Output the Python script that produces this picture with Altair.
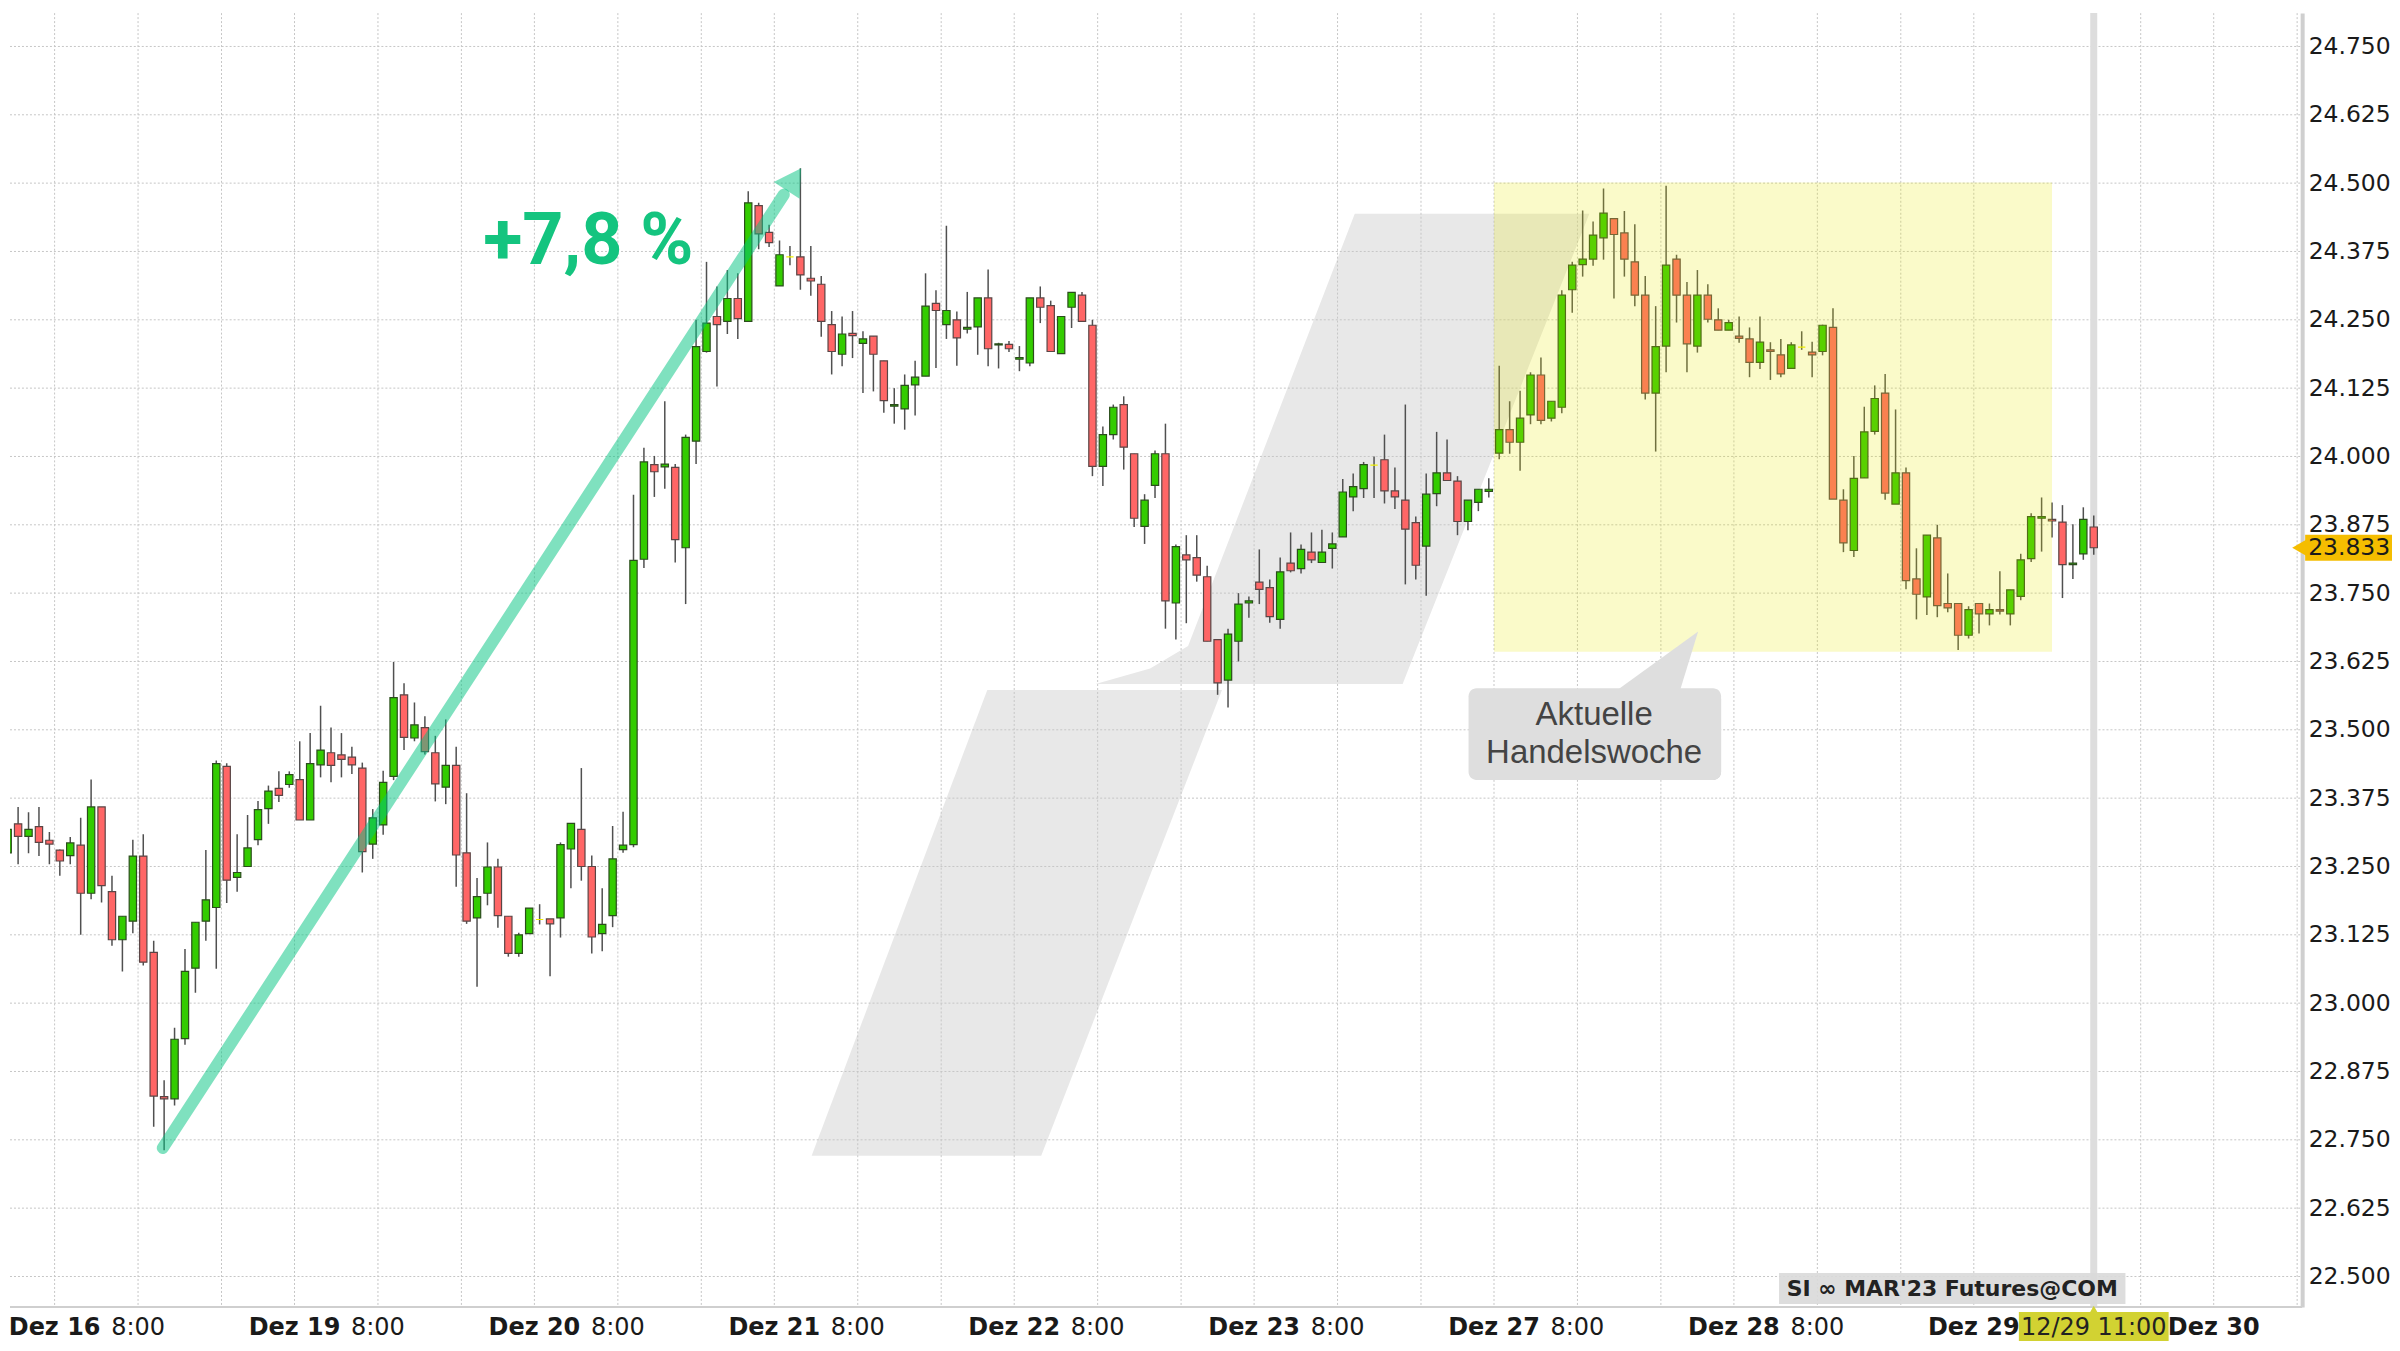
import altair as alt
import pandas as pd

W, H = 2296, 1296

opens = [23.275, 23.328, 23.305, 23.323, 23.298, 23.280, 23.270, 23.289, 23.201, 23.359,
         23.204, 23.116, 23.150, 23.269, 23.093, 22.829, 22.825, 22.935, 23.064, 23.150,
         23.175, 23.433, 23.230, 23.250, 23.299, 23.356, 23.393, 23.400, 23.409, 23.335,
         23.436, 23.458, 23.454, 23.450, 23.430, 23.291, 23.326, 23.415, 23.564, 23.485,
         23.504, 23.458, 23.395, 23.435, 23.275, 23.156, 23.201, 23.249, 23.159, 23.091,
         23.127, 23.153, 23.154, 23.156, 23.282, 23.318, 23.250, 23.127, 23.160, 23.281,
         23.290, 23.812, 23.985, 23.981, 23.980, 23.833, 24.028, 24.192, 24.256, 24.247,
         24.289, 24.247, 24.459, 24.410, 24.312, 24.365, 24.365, 24.326, 24.315, 24.241,
         24.187, 24.225, 24.207, 24.220, 24.175, 24.092, 24.087, 24.131, 24.147, 24.280,
         24.241, 24.250, 24.233, 24.237, 24.290, 24.204, 24.205, 24.178, 24.171, 24.290,
         24.276, 24.188, 24.273, 24.295, 24.240, 23.982, 24.040, 24.095, 24.005, 23.872,
         23.947, 24.005, 23.732, 23.820, 23.815, 23.780, 23.665, 23.591, 23.662, 23.732,
         23.770, 23.760, 23.702, 23.805, 23.795, 23.825, 23.806, 23.832, 23.853, 23.926,
         23.941, 23.984, 23.994, 23.937, 23.920, 23.879, 23.836, 23.932, 23.970, 23.955,
         23.881, 23.916, 23.936, 24.006, 24.049, 24.026, 24.076, 24.149, 24.070, 24.090,
         24.305, 24.351, 24.361, 24.400, 24.435, 24.409, 24.356, 24.295, 24.116, 24.202,
         24.361, 24.295, 24.202, 24.295, 24.250, 24.231, 24.220, 24.215, 24.172, 24.195,
         24.186, 24.161, 24.200, 24.191, 24.192, 24.236, 23.920, 23.828, 23.961, 24.046,
         24.116, 23.913, 23.970, 23.776, 23.743, 23.851, 23.731, 23.731, 23.673, 23.731,
         23.712, 23.720, 23.712, 23.744, 23.813, 23.887, 23.885, 23.880, 23.802, 23.822,
         23.871]
highs = [23.418, 23.359, 23.349, 23.359, 23.313, 23.281, 23.304, 23.339, 23.409, 23.359,
         23.233, 23.159, 23.299, 23.309, 23.114, 22.859, 22.955, 23.099, 23.148, 23.280,
         23.444, 23.439, 23.309, 23.344, 23.370, 23.398, 23.424, 23.424, 23.479, 23.494,
         23.544, 23.504, 23.494, 23.469, 23.440, 23.355, 23.425, 23.624, 23.585, 23.550,
         23.525, 23.489, 23.519, 23.469, 23.384, 23.229, 23.294, 23.264, 23.159, 23.129,
         23.174, 23.181, 23.154, 23.294, 23.329, 23.430, 23.270, 23.210, 23.324, 23.350,
         23.930, 24.016, 24.001, 24.101, 23.986, 24.040, 24.250, 24.356, 24.311, 24.341,
         24.335, 24.485, 24.464, 24.424, 24.395, 24.385, 24.527, 24.385, 24.330, 24.266,
         24.256, 24.266, 24.229, 24.220, 24.175, 24.125, 24.150, 24.175, 24.335, 24.304,
         24.422, 24.265, 24.301, 24.290, 24.342, 24.208, 24.211, 24.202, 24.290, 24.311,
         24.285, 24.256, 24.300, 24.301, 24.250, 24.055, 24.095, 24.110, 24.005, 23.931,
         24.011, 24.060, 23.839, 23.856, 23.856, 23.800, 23.665, 23.685, 23.750, 23.744,
         23.830, 23.775, 23.815, 23.861, 23.839, 23.861, 23.866, 23.861, 23.959, 23.969,
         23.990, 24.000, 24.040, 23.980, 24.095, 23.890, 23.969, 24.045, 24.031, 23.964,
         23.920, 23.940, 23.960, 24.166, 24.101, 24.120, 24.154, 24.181, 24.101, 24.304,
         24.356, 24.450, 24.430, 24.490, 24.435, 24.449, 24.425, 24.330, 24.275, 24.495,
         24.369, 24.319, 24.341, 24.315, 24.271, 24.250, 24.256, 24.236, 24.256, 24.209,
         24.215, 24.209, 24.229, 24.210, 24.241, 24.271, 23.940, 24.001, 24.091, 24.130,
         24.151, 24.086, 23.980, 23.832, 23.856, 23.875, 23.786, 23.731, 23.726, 23.731,
         23.731, 23.790, 23.756, 23.822, 23.896, 23.925, 23.916, 23.911, 23.876, 23.907,
         23.892]
lows = [23.263, 23.254, 23.274, 23.269, 23.254, 23.233, 23.254, 23.125, 23.190, 23.184,
        23.105, 23.058, 23.128, 23.069, 22.774, 22.731, 22.813, 22.924, 23.019, 23.114,
        23.063, 23.183, 23.204, 23.250, 23.289, 23.328, 23.368, 23.394, 23.335, 23.335,
        23.413, 23.404, 23.413, 23.419, 23.239, 23.264, 23.308, 23.408, 23.463, 23.479,
        23.455, 23.369, 23.364, 23.213, 23.145, 23.030, 23.179, 23.138, 23.085, 23.085,
        23.127, 23.144, 23.049, 23.120, 23.210, 23.224, 23.091, 23.095, 23.139, 23.275,
        23.285, 23.796, 23.926, 23.941, 23.806, 23.730, 23.986, 24.190, 24.128, 24.224,
        24.215, 24.247, 24.379, 24.383, 24.312, 24.350, 24.305, 24.294, 24.219, 24.150,
        24.165, 24.180, 24.116, 24.119, 24.080, 24.060, 24.049, 24.075, 24.147, 24.162,
        24.215, 24.166, 24.225, 24.186, 24.165, 24.161, 24.191, 24.156, 24.165, 24.244,
        24.192, 24.188, 24.235, 24.247, 23.964, 23.946, 24.031, 23.976, 23.871, 23.840,
        23.924, 23.685, 23.665, 23.695, 23.771, 23.662, 23.564, 23.541, 23.625, 23.705,
        23.730, 23.696, 23.685, 23.788, 23.786, 23.805, 23.806, 23.795, 23.853, 23.900,
        23.924, 23.924, 23.914, 23.904, 23.766, 23.775, 23.745, 23.909, 23.956, 23.856,
        23.865, 23.900, 23.925, 23.995, 24.005, 23.974, 24.059, 24.059, 24.064, 24.079,
        24.263, 24.329, 24.349, 24.360, 24.289, 24.329, 24.275, 24.104, 24.009, 24.154,
        24.245, 24.154, 24.190, 24.245, 24.231, 24.231, 24.208, 24.145, 24.160, 24.140,
        24.145, 24.161, 24.195, 24.145, 24.185, 23.922, 23.825, 23.816, 23.961, 24.040,
        23.921, 23.913, 23.757, 23.702, 23.710, 23.706, 23.715, 23.646, 23.667, 23.676,
        23.691, 23.711, 23.691, 23.737, 23.807, 23.826, 23.852, 23.741, 23.776, 23.811,
        23.820]
closes = [23.318, 23.305, 23.318, 23.294, 23.291, 23.260, 23.293, 23.201, 23.359, 23.215,
          23.116, 23.159, 23.269, 23.075, 22.830, 22.825, 22.934, 23.058, 23.148, 23.189,
          23.438, 23.225, 23.239, 23.284, 23.354, 23.388, 23.380, 23.418, 23.335, 23.438,
          23.463, 23.435, 23.446, 23.436, 23.277, 23.339, 23.404, 23.559, 23.486, 23.509,
          23.460, 23.401, 23.435, 23.271, 23.150, 23.195, 23.249, 23.160, 23.091, 23.125,
          23.174, 23.153, 23.145, 23.290, 23.329, 23.250, 23.121, 23.144, 23.264, 23.289,
          23.810, 23.990, 23.972, 23.986, 23.848, 24.035, 24.201, 24.244, 24.241, 24.289,
          24.252, 24.464, 24.407, 24.391, 24.369, 24.365, 24.332, 24.321, 24.247, 24.192,
          24.224, 24.221, 24.215, 24.187, 24.102, 24.095, 24.130, 24.145, 24.275, 24.267,
          24.267, 24.217, 24.236, 24.290, 24.197, 24.206, 24.197, 24.181, 24.290, 24.273,
          24.192, 24.256, 24.300, 24.247, 23.982, 24.040, 24.090, 24.017, 23.887, 23.920,
          24.005, 23.736, 23.835, 23.811, 23.783, 23.662, 23.586, 23.675, 23.730, 23.736,
          23.757, 23.707, 23.789, 23.791, 23.830, 23.811, 23.825, 23.840, 23.935, 23.945,
          23.985, 23.984, 23.937, 23.926, 23.867, 23.801, 23.931, 23.970, 23.956, 23.881,
          23.920, 23.940, 23.940, 24.049, 24.026, 24.070, 24.149, 24.066, 24.101, 24.295,
          24.350, 24.361, 24.405, 24.445, 24.406, 24.361, 24.295, 24.116, 24.201, 24.350,
          24.295, 24.206, 24.295, 24.251, 24.231, 24.245, 24.216, 24.172, 24.209, 24.192,
          24.151, 24.204, 24.200, 24.186, 24.240, 23.922, 23.842, 23.960, 24.045, 24.106,
          23.933, 23.970, 23.773, 23.748, 23.856, 23.727, 23.723, 23.673, 23.720, 23.712,
          23.720, 23.717, 23.756, 23.811, 23.890, 23.890, 23.882, 23.802, 23.805, 23.885,
          23.833]

y_ticks = [22.5, 22.625, 22.75, 22.875, 23.0, 23.125, 23.25, 23.375, 23.5, 23.625,
           23.75, 23.875, 24.0, 24.125, 24.25, 24.375, 24.5, 24.625, 24.75]
day_names = ["Dez 16", "Dez 19", "Dez 20", "Dez 21", "Dez 22", "Dez 23", "Dez 27",
             "Dez 28", "Dez 29", "Dez 30"]
day_pos = [4.5, 27.5, 50.5, 73.5, 96.5, 119.5, 142.5, 165.5, 188.5, 211.5]
time_pos = [12.5, 35.5, 58.5, 81.5, 104.5, 127.5, 150.5, 173.5]
grid16_pos = [20.5, 43.5, 66.5, 89.5, 112.5, 135.5, 158.5, 181.5, 204.5, 219.5]
last_price = 23.833

candles = pd.DataFrame({"i": list(range(len(opens))), "o": opens, "h": highs, "l": lows, "c": closes})
candles["dir"] = ["up" if c > o else ("down" if c < o else "flat") for o, c in zip(opens, closes)]

xs = alt.Scale(domain=[0.223, 219.98], nice=False, zero=False)
ys = alt.Scale(domain=[22.4443, 24.8110], nice=False, zero=False)

AXIS_Y = alt.Axis(orient="right", values=y_ticks, format=".3f", grid=False, ticks=False,
                  domain=True, domainColor="#cfcfcf", domainWidth=4, labelFont="DejaVu Sans",
                  labelFontSize=23.5, labelColor="#1a1a1a", labelPadding=6, title=None,
                  labelBound=False, labelFlush=False, labelOverlap=False)


def X(f):
    return alt.X(f, scale=xs, axis=None)


def Y(f):
    return alt.Y(f, scale=ys, axis=AXIS_Y)


# gray logo in the background (two slanted bars)
logo = pd.DataFrame({
    "shape": ["a", "a", "a", "a", "b", "b"],
    "y": [24.4439, 23.6534, 23.6120, 23.5839, 23.5729, 22.7208],
    "xl": [129.15, 113.17, 109.53, 104.30, 93.92, 77.08],
    "xr": [151.64, 135.18, 134.32, 133.74, 116.42, 99.09],
})
logo_layer = alt.Chart(logo).mark_area(orient="horizontal", color="#e8e8e8").encode(
    y=Y("y:Q"), x=alt.X("xl:Q", scale=xs, axis=None, stack=None), x2="xr:Q", detail="shape:N")

hgrid = alt.Chart(pd.DataFrame({"v": y_ticks})).mark_rule(
    color="#c6c6c6", strokeDash=[2, 2], strokeWidth=1).encode(
    y=Y("v:Q"), x=alt.value(0), x2=alt.value(W))

vgrid = alt.Chart(pd.DataFrame({"v": day_pos + time_pos + grid16_pos})).mark_rule(
    color="#c6c6c6", strokeDash=[2, 2], strokeWidth=1).encode(x=X("v:Q"), y=alt.value(0), y2=alt.value(H))

cursor = alt.Chart(pd.DataFrame({"v": [200]})).mark_rule(
    color="#dddddd", strokeWidth=7).encode(x=X("v:Q"), y=alt.value(0), y2=alt.value(H))

bottom_line = alt.Chart(pd.DataFrame({"v": [0]})).mark_rule(
    color="#cfcfcf", strokeWidth=2).encode(y=alt.value(H), x=alt.value(0), x2=alt.value(W))

base = alt.Chart(candles)
wicks = base.mark_rule(color="#505050", strokeWidth=1.5, clip=True).encode(
    x=X("i:Q"), y=Y("l:Q"), y2="h:Q")
bodies = base.transform_calculate(x0="datum.i - 0.35", x1="datum.i + 0.35").mark_rect(
    strokeWidth=1.2, clip=True).encode(
    x=X("x0:Q"), x2="x1:Q", y=Y("o:Q"), y2="c:Q",
    fill=alt.Fill("dir:N", scale=alt.Scale(domain=["up", "down", "flat"],
                                          range=["#33cc00", "#ff6666", "#ffff00"]), legend=None),
    stroke=alt.Stroke("dir:N", scale=alt.Scale(domain=["up", "down", "flat"],
                                              range=["#2b4d1c", "#5a4545", "#f0f000"]), legend=None))

yellow = alt.Chart(pd.DataFrame({"x": [142.5], "x2": [196.0], "y": [24.5013], "y2": [23.643]})).mark_rect(
    fill="#e6e600", opacity=0.21).encode(x=X("x:Q"), x2="x2:Q", y=Y("y:Q"), y2="y2:Q")

arrow_line = alt.Chart(pd.DataFrame({"x": [14.87, 74.41], "y": [22.735, 24.479]})).mark_line(
    color="#00c480", opacity=0.5, strokeWidth=12, strokeCap="round").encode(x=X("x:Q"), y=Y("y:Q"))
arrow_head = alt.Chart(pd.DataFrame({"x": [75.38], "y": [24.507]})).mark_point(
    shape="triangle-up", angle=33, size=950, filled=True, color="#00c480", opacity=0.5).encode(
    x=X("x:Q"), y=Y("y:Q"))

pct = alt.Chart(pd.DataFrame({"x": [45.59], "y": [24.352], "t": ["+7,8 %"]})).mark_text(
    align="left", baseline="alphabetic", font="Roboto", fontWeight="bold", fontSize=72,
    color="#14c47f").encode(x=X("x:Q"), y=Y("y:Q"), text="t:N")

box = pd.DataFrame({"x": [140.06], "x2": [164.27], "y": [23.5760], "y2": [23.4080]})
callout_shadow = alt.Chart(box).mark_rect(fill="#a8a8a8", opacity=0.55, cornerRadius=8,
                                          xOffset=2, yOffset=3).encode(
    x=X("x:Q"), x2="x2:Q", y=Y("y:Q"), y2="y2:Q")
callout_box = alt.Chart(box).mark_rect(fill="#dedede", cornerRadius=8).encode(
    x=X("x:Q"), x2="x2:Q", y=Y("y:Q"), y2="y2:Q")
pointer = alt.Chart(pd.DataFrame({"y": [23.6800, 23.560], "xl": [162.07, 153.40],
                                  "xr": [162.07, 160.14]})).mark_area(
    orient="horizontal", color="#dedede").encode(
    y=Y("y:Q"), x=alt.X("xl:Q", scale=xs, axis=None, stack=None), x2="xr:Q")
callout_text = alt.Chart(pd.DataFrame({"x": [152.1, 152.1], "y": [23.5095, 23.4395],
                                       "t": ["Aktuelle", "Handelswoche"]})).mark_text(
    align="center", baseline="alphabetic", font="Liberation Sans", fontSize=33,
    color="#444444").encode(x=X("x:Q"), y=Y("y:Q"), text="t:N")

wm_box = alt.Chart(pd.DataFrame({"v": [0]})).mark_rect(fill="#d9d9d9", opacity=0.9).encode(
    x=alt.value(1772), x2=alt.value(2119), y=alt.value(1262), y2=alt.value(1293))
wm_text = alt.Chart(pd.DataFrame({"t": ["SI \u221e MAR'23 Futures@COM"]})).mark_text(
    align="center", baseline="alphabetic", font="DejaVu Sans", fontWeight="bold", fontSize=22,
    color="#222222").encode(x=alt.value(1945.5), y=alt.value(1285), text="t:N")

tag_rect = alt.Chart(pd.DataFrame({"a": [last_price + 0.0237], "b": [last_price - 0.0237]})).mark_rect(
    fill="#f5bd00").encode(x=alt.value(W + 3), x2=alt.value(W + 90), y=Y("a:Q"), y2="b:Q")
tag_tri = alt.Chart(pd.DataFrame({"y": [last_price]})).mark_point(
    shape="triangle-left", size=260, filled=True, color="#f5bd00", opacity=1).encode(
    x=alt.value(W - 3), y=Y("y:Q"))
tag_text = alt.Chart(pd.DataFrame({"y": [last_price], "t": ["23.833"]})).mark_text(
    align="left", baseline="middle", font="DejaVu Sans", fontSize=23.5, color="#1a1a1a").encode(
    x=alt.value(W + 6), y=Y("y:Q"), text="t:N")

hl_box = alt.Chart(pd.DataFrame({"x": [192.82], "x2": [207.18]})).mark_rect(fill="#d2d232").encode(
    x=X("x:Q"), x2="x2:Q", y=alt.value(H + 5), y2=alt.value(H + 34))
hl_tri = alt.Chart(pd.DataFrame({"x": [200]})).mark_point(
    shape="triangle-up", size=90, filled=True, color="#d2d232", opacity=1).encode(
    x=X("x:Q"), y=alt.value(H + 3))
hl_text = alt.Chart(pd.DataFrame({"x": [200], "t": ["12/29 11:00"]})).mark_text(
    align="center", baseline="alphabetic", font="DejaVu Sans", fontSize=24, color="#222222").encode(
    x=X("x:Q"), y=alt.value(H + 28), text="t:N")

day_df = pd.DataFrame({"x": day_pos, "t": day_names})
day_text = alt.Chart(day_df).mark_text(
    align="center", baseline="alphabetic", font="DejaVu Sans", fontWeight="bold", fontSize=24,
    color="#1a1a1a").encode(x=X("x:Q"), y=alt.value(H + 28), text="t:N")
time_df = pd.DataFrame({"x": time_pos, "t": ["8:00"] * len(time_pos)})
time_text = alt.Chart(time_df).mark_text(
    align="center", baseline="alphabetic", font="DejaVu Sans", fontSize=24,
    color="#1a1a1a").encode(x=X("x:Q"), y=alt.value(H + 28), text="t:N")

chart = alt.layer(
    logo_layer, hgrid, vgrid, cursor, bottom_line, wicks, bodies, yellow, arrow_line, arrow_head,
    pct, callout_shadow, pointer, callout_box, callout_text, wm_box, wm_text,
    tag_rect, tag_tri, tag_text, hl_box, hl_tri, hl_text, day_text, time_text
).properties(width=W, height=H, padding=0, background="white").configure_view(stroke=None)

chart.save("out.html", embed_options={"renderer": "svg", "actions": False})
